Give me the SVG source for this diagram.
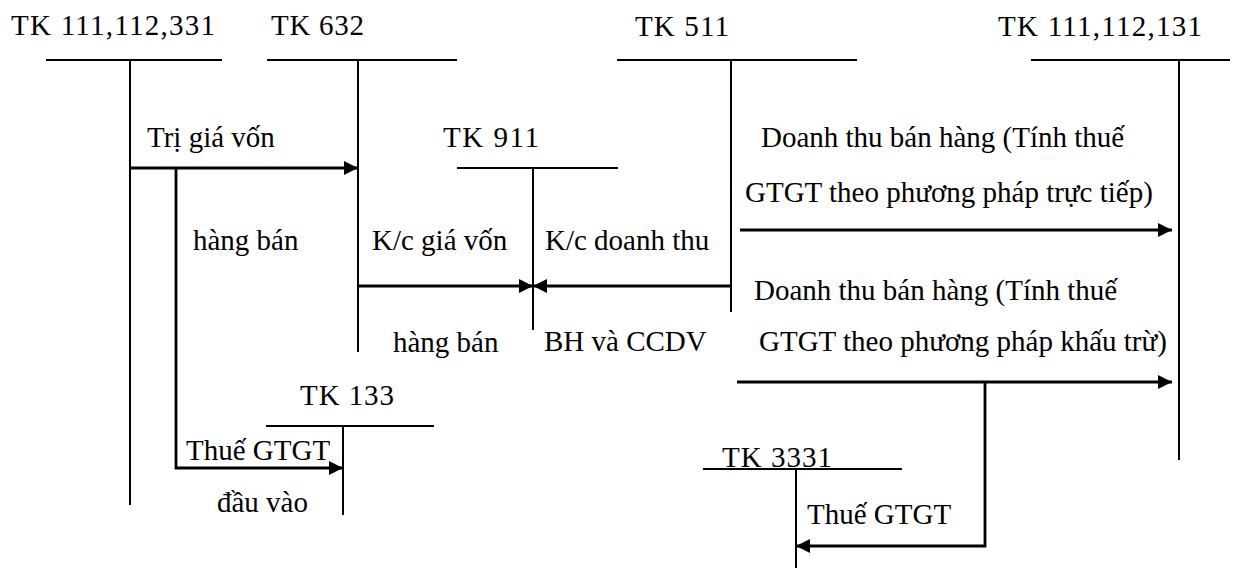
<svg xmlns="http://www.w3.org/2000/svg" width="1235" height="568" viewBox="0 0 1235 568">
  <defs>
    <marker id="arr" viewBox="0 0 14 14" refX="14" refY="7" markerWidth="14" markerHeight="14" markerUnits="userSpaceOnUse" orient="auto">
      <path d="M0,0 L14,7 L0,14 Z" fill="#000"/>
    </marker>
  </defs>
  <rect width="1235" height="568" fill="#fff"/>

  <!-- T-accounts: title, horizontal bar, vertical stem -->
  <g stroke="#000" stroke-width="2" fill="none" font-family="Liberation Serif, serif" font-size="29">
    <g id="tk111-112-331">
      <text x="11" y="35" fill="#000" stroke="none" textLength="204" lengthAdjust="spacing">TK 111,112,331</text>
      <line x1="46" y1="60" x2="222" y2="60"/>
      <line x1="130" y1="60" x2="130" y2="505"/>
    </g>
    <g id="tk632">
      <text x="271" y="35" fill="#000" stroke="none" textLength="93" lengthAdjust="spacing">TK 632</text>
      <line x1="267" y1="60" x2="457" y2="60"/>
      <line x1="358" y1="60" x2="358" y2="352"/>
    </g>
    <g id="tk511">
      <text x="635" y="36" fill="#000" stroke="none" textLength="94" lengthAdjust="spacing">TK 511</text>
      <line x1="617" y1="60" x2="857" y2="60"/>
      <line x1="731" y1="60" x2="731" y2="312"/>
    </g>
    <g id="tk111-112-131">
      <text x="998" y="36" fill="#000" stroke="none" textLength="204" lengthAdjust="spacing">TK 111,112,131</text>
      <line x1="1031" y1="60" x2="1230" y2="60"/>
      <line x1="1179" y1="60" x2="1179" y2="460"/>
    </g>
    <g id="tk911">
      <text x="443" y="147" fill="#000" stroke="none" textLength="96" lengthAdjust="spacing">TK 911</text>
      <line x1="457" y1="168" x2="618" y2="168"/>
      <line x1="533" y1="168" x2="533" y2="330"/>
    </g>
    <g id="tk133">
      <text x="300" y="405" fill="#000" stroke="none" textLength="94" lengthAdjust="spacing">TK 133</text>
      <line x1="266" y1="426" x2="434" y2="426"/>
      <line x1="343" y1="426" x2="343" y2="515"/>
    </g>
    <g id="tk3331">
      <text x="722" y="467" fill="#000" stroke="none" textLength="110" lengthAdjust="spacing">TK 3331</text>
      <line x1="703" y1="469" x2="902" y2="469"/>
      <line x1="796" y1="469" x2="796" y2="568"/>
    </g>
  </g>

  <!-- Connectors -->
  <g id="connectors" stroke="#000" stroke-width="2.8" fill="none">
    <line x1="130" y1="168" x2="358" y2="168" marker-end="url(#arr)"/>
    <polyline points="176,168 176,468 343,468" marker-end="url(#arr)"/>
    <line x1="358" y1="286" x2="533" y2="286" marker-end="url(#arr)"/>
    <line x1="731" y1="286" x2="533" y2="286" marker-end="url(#arr)"/>
    <line x1="740" y1="230" x2="1172" y2="230" marker-end="url(#arr)"/>
    <line x1="737" y1="382" x2="1172" y2="382" marker-end="url(#arr)"/>
    <polyline points="985,382 985,546 796,546" marker-end="url(#arr)"/>
  </g>

  <!-- Entry labels -->
  <g id="labels" fill="#000" font-family="Liberation Serif, serif" font-size="29">
    <text x="147" y="147">Trị giá vốn</text>
    <text x="193" y="250">hàng bán</text>
    <text x="372" y="250">K/c giá vốn</text>
    <text x="393" y="352">hàng bán</text>
    <text x="545" y="250">K/c doanh thu</text>
    <text x="544" y="351">BH và CCDV</text>
    <text x="761" y="147">Doanh thu bán hàng (Tính thuế</text>
    <text x="745" y="202">GTGT theo phương pháp trực tiếp)</text>
    <text x="754" y="300">Doanh thu bán hàng (Tính thuế</text>
    <text x="759" y="351">GTGT theo phương pháp khấu trừ)</text>
    <text x="186" y="460">Thuế GTGT</text>
    <text x="217" y="512">đầu vào</text>
    <text x="807" y="524">Thuế GTGT</text>
  </g>
</svg>
